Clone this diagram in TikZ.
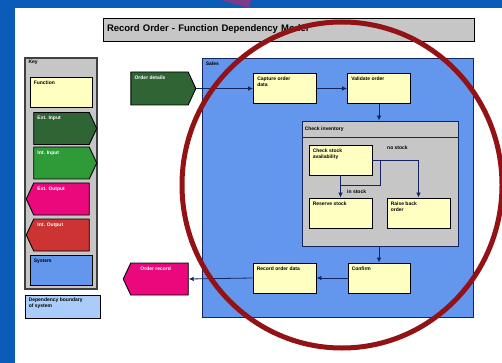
\documentclass[tikz,border=0pt]{standalone}
\usepackage{fontspec}
\setmainfont{Liberation Sans}
\usetikzlibrary{arrows.meta,positioning,shapes.symbols,calc}
\definecolor{slide}{HTML}{0B5CB8}
\definecolor{pointer}{HTML}{7D3A8A}
\definecolor{fnyel}{HTML}{FFFFC2}
\definecolor{extgreen}{HTML}{2F6434}
\definecolor{intgreen}{HTML}{2E9A38}
\definecolor{extpink}{HTML}{EA087C}
\definecolor{intred}{HTML}{CC3333}
\definecolor{sysblue}{HTML}{6397EE}
\definecolor{paleblue}{HTML}{AACCFA}
\definecolor{panel}{HTML}{C6C6C6}
\definecolor{navy}{HTML}{14245E}
\definecolor{ring}{HTML}{921216}

\begin{document}
\begin{tikzpicture}[x=1pt,y=-1pt,
    fnbox/.style={draw=black, line width=0.9pt, fill=fnyel, minimum width=63pt, minimum height=30pt, inner sep=0pt},
    sigbox/.style={signal, signal pointer angle=130, draw=black, line width=0.9pt, minimum width=64pt, minimum height=32pt, inner sep=0pt},
    boxtxt/.style={font=\fontsize{5}{6}\selectfont\bfseries, align=left, inner sep=3pt},
    intxt/.style={boxtxt, anchor=north west, inner xsep=4pt, inner ysep=4pt},
    flow/.style={draw=navy, line width=0.8pt, -{Latex[length=5pt,width=4.5pt]}},
    link/.style={draw=navy, line width=0.8pt}]
  \useasboundingbox (0,0) rectangle (502,363);
  % slide background
  \fill[slide] (0,0) rectangle (502,363);
  \fill[white] (15,8) rectangle (502,363);
  \fill[pointer] (221,0) -- (251,0) -- (249,8) -- cycle;

  % title
  \node[draw=black, line width=0.9pt, fill=panel, minimum width=371pt, minimum height=23pt,
        text width=363pt, align=left, font=\fontsize{9.5}{11}\selectfont\bfseries] (title) at (288.5,29.5)
        {Record Order - Function Dependency Model};

  % key
  \node[draw=black!75, line width=1.3pt, fill=panel, minimum width=72pt, minimum height=231pt,
        label={[intxt, inner ysep=3pt]north west:Key}] (key) at (61,173.5) {};
  \node[fnbox, minimum width=62pt, label={[intxt]north west:Function}] (key-fn) at (61,92) {};
  \foreach \n/\y/\c/\d/\t in {a/128.5/extgreen/east/Ext. Input, b/163/intgreen/east/Int. Input,
                              c/199/extpink/west/Ext. Output, d/235/intred/west/Int. Output}
    { \node[sigbox, fill=\c, signal to=\d, minimum width=63pt,
            label={[intxt, text=white]north west:\t}] (key-\n) at (61.5,\y) {}; }
  \node[fnbox, fill=sysblue, minimum width=62pt, label={[intxt]north west:System}] (key-sys) at (61,270) {};
  \node[fnbox, fill=paleblue, minimum width=75pt, minimum height=23pt,
        label={[intxt, inner ysep=3pt]north west:Dependency boundary\\of system}] (bound) at (62.5,306.5) {};

  % system
  \node[draw=navy, line width=0.9pt, fill=sysblue, minimum width=271pt, minimum height=259pt,
        label={[intxt]north west:Sales}] (sys) at (337.5,187.5) {};
  \node[sigbox, fill=extgreen, signal to=east, minimum width=65pt, minimum height=33pt,
        label={[intxt, text=white]north west:Order details}] (ordin) at (159.5,88.5) {};
  \node[fnbox, label={[intxt]north west:Capture order\\data}] (capture) at (285,88.5) {};
  \node[fnbox, label={[intxt]north west:Validate order}] (validate) at (379,88.5) {};

  % inventory check
  \node[draw=navy, line width=0.9pt, fill=panel, minimum width=156pt, minimum height=125pt] (inv) at (380,183.5) {};
  \node[draw=navy, line width=0.9pt, fill=panel, minimum width=156pt, minimum height=16pt,
        anchor=north, label={[boxtxt, anchor=west]west:Check inventory}] (invhead) at (inv.north) {};
  \node[fnbox, label={[intxt]north west:Check stock\\availability}] (avail) at (340.5,160) {};
  \node[fnbox, label={[intxt]north west:Reserve stock}] (reserve) at (340.5,213) {};
  \node[fnbox, label={[intxt]north west:Raise back\\order}] (backord) at (418.5,213) {};
  \node[boxtxt, anchor=west] (nostock) at (384,148) {no stock};
  \node[boxtxt, anchor=west] (instock) at (344,192) {in stock};
  \coordinate (br) at (380,160);
  \coordinate (jn) at (340.5,185);

  \node[fnbox, minimum width=62pt, label={[intxt]north west:Confirm}] (confirm) at (379,278) {};
  \node[fnbox, label={[intxt]north west:Record order data}] (record) at (284.5,278) {};
  \node[sigbox, fill=extpink, signal to=west, minimum width=65pt,
        label={[intxt, text=white, xshift=6pt]north west:Order record}] (ordout) at (159.5,279) {};

  % connectors
  \draw[flow] (ordin.east) -- (capture.west);
  \draw[flow] (capture.east) -- (validate.west);
  \draw[flow] (validate.south) -- (invhead.north -| validate.south);
  \draw[flow] (avail.east) -| (backord.north);
  \draw[link] (br) |- (jn);
  \draw[flow] (avail.south) -- (reserve.north);
  \draw[flow] (inv.south -| confirm.north) -- (confirm.north);
  \draw[flow] (confirm.west) -- (record.east);
  \draw[flow] (record.west) -- (ordout.east);

  % annotation ring
  \draw[ring, line width=5pt] (342,185) ellipse [x radius=160, y radius=163];
\end{tikzpicture}
\end{document}
